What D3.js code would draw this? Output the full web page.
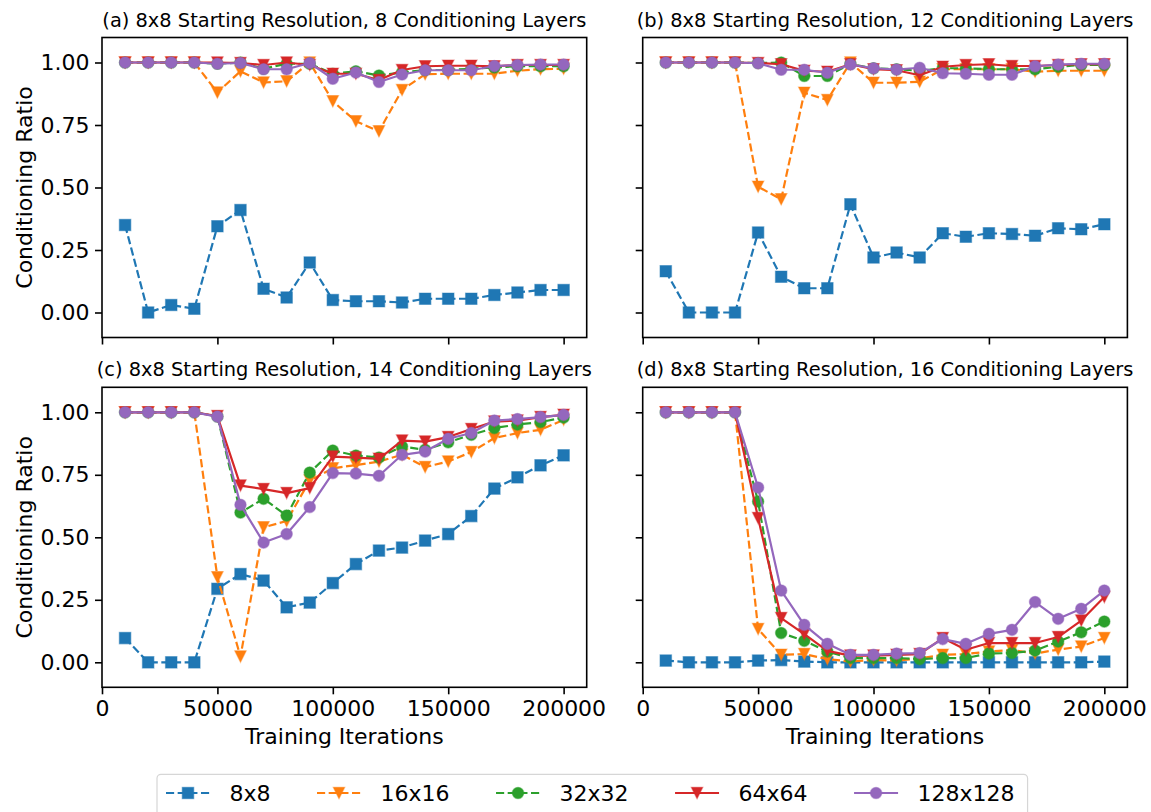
<!DOCTYPE html>
<html>
<head>
<meta charset="utf-8">
<script src="https://cdn.jsdelivr.net/npm/d3@7"></script>
<style>
  html, body { margin: 0; padding: 0; background: #ffffff; }
  svg { display: block; font-family: "DejaVu Sans", sans-serif; }
</style>
</head>
<body>
<svg id="chart" width="1151" height="812"></svg>
<script>
// Training checkpoints (x axis)
const iterations = [10000, 20000, 30000, 40000, 50000, 60000, 70000, 80000, 90000, 100000,
                    110000, 120000, 130000, 140000, 150000, 160000, 170000, 180000, 190000, 200000];

// Series (resolution) names
const seriesNames = ["8x8", "16x16", "32x32", "64x64", "128x128"];

// Panel titles
const panelTitles = [
  "(a) 8x8 Starting Resolution, 8 Conditioning Layers",
  "(b) 8x8 Starting Resolution, 12 Conditioning Layers",
  "(c) 8x8 Starting Resolution, 14 Conditioning Layers",
  "(d) 8x8 Starting Resolution, 16 Conditioning Layers"
];

// Tick values
const xTicks = [0, 50000, 100000, 150000, 200000];
const yTicks = [0, 0.25, 0.5, 0.75, 1.0];

// (a) 8 conditioning layers
const a8   = [0.35, 0.0, 0.03, 0.015, 0.345, 0.41, 0.095, 0.06, 0.2, 0.05, 0.045, 0.045, 0.04, 0.055, 0.055, 0.055, 0.07, 0.08, 0.09, 0.09];
const a16  = [1.0, 1.0, 1.0, 1.0, 0.88, 0.965, 0.92, 0.925, 1.0, 0.845, 0.765, 0.725, 0.89, 0.953, 0.955, 0.955, 0.955, 0.967, 0.973, 0.975];
const a32  = [1.0, 1.0, 1.0, 1.0, 0.995, 1.0, 0.975, 0.995, 0.995, 0.955, 0.965, 0.948, 0.96, 0.97, 0.97, 0.975, 0.98, 0.985, 0.985, 0.985];
const a64  = [1.0, 1.0, 1.0, 1.0, 1.0, 0.998, 0.99, 1.0, 0.99, 0.955, 0.955, 0.93, 0.97, 0.985, 0.987, 0.987, 0.985, 0.99, 0.99, 0.99];
const a128 = [1.0, 1.0, 1.0, 1.0, 0.995, 0.998, 0.973, 0.973, 0.998, 0.935, 0.96, 0.922, 0.952, 0.969, 0.969, 0.969, 0.986, 0.99, 0.992, 0.992];

// (b) 12 conditioning layers
const b8   = [0.165, 0.0, 0.0, 0.0, 0.32, 0.143, 0.097, 0.097, 0.433, 0.22, 0.24, 0.22, 0.317, 0.303, 0.317, 0.314, 0.307, 0.337, 0.333, 0.353];
const b16  = [1.0, 1.0, 1.0, 1.0, 0.503, 0.453, 0.879, 0.85, 1.0, 0.919, 0.919, 0.923, 0.973, 0.973, 0.973, 0.973, 0.963, 0.967, 0.967, 0.967];
const b32  = [1.0, 1.0, 1.0, 1.0, 0.998, 1.0, 0.946, 0.946, 0.994, 0.977, 0.973, 0.967, 0.977, 0.977, 0.973, 0.973, 0.973, 0.983, 0.99, 0.99];
const b64  = [1.0, 1.0, 1.0, 1.0, 0.998, 0.993, 0.967, 0.963, 0.993, 0.973, 0.969, 0.949, 0.983, 0.99, 0.993, 0.986, 0.986, 0.99, 0.993, 0.993];
const b128 = [1.0, 1.0, 1.0, 1.0, 0.997, 0.971, 0.971, 0.959, 0.992, 0.977, 0.972, 0.979, 0.957, 0.955, 0.951, 0.951, 0.985, 0.992, 0.995, 0.995];

// (c) 14 conditioning layers
const c8   = [0.097, 0.0, 0.0, 0.0, 0.294, 0.353, 0.327, 0.22, 0.239, 0.317, 0.393, 0.447, 0.459, 0.487, 0.513, 0.585, 0.695, 0.74, 0.788, 0.828];
const c16  = [1.0, 1.0, 1.0, 1.0, 0.34, 0.023, 0.54, 0.565, 0.727, 0.776, 0.789, 0.803, 0.83, 0.781, 0.803, 0.841, 0.897, 0.917, 0.93, 0.97];
const c32  = [1.0, 1.0, 1.0, 1.0, 0.983, 0.599, 0.654, 0.587, 0.759, 0.847, 0.827, 0.819, 0.863, 0.85, 0.88, 0.91, 0.937, 0.951, 0.961, 0.979];
const c64  = [1.0, 1.0, 1.0, 1.0, 0.985, 0.707, 0.693, 0.677, 0.697, 0.823, 0.819, 0.814, 0.887, 0.883, 0.901, 0.933, 0.963, 0.967, 0.981, 0.99];
const c128 = [1.0, 1.0, 1.0, 1.0, 0.983, 0.63, 0.479, 0.513, 0.621, 0.757, 0.755, 0.746, 0.83, 0.843, 0.894, 0.917, 0.967, 0.973, 0.981, 0.99];

// (d) 16 conditioning layers
const d8   = [0.007, 0.0, 0.0, 0.0, 0.007, 0.009, 0.003, 0.0, 0.0, 0.0, 0.0, 0.0, 0.0, 0.0, 0.0, 0.0, 0.0, 0.0, 0.0, 0.003];
const d16  = [1.0, 1.0, 1.0, 1.0, 0.133, 0.03, 0.033, 0.013, 0.003, 0.009, 0.007, 0.015, 0.03, 0.033, 0.043, 0.049, 0.035, 0.051, 0.063, 0.097];
const d32  = [1.0, 1.0, 1.0, 1.0, 0.643, 0.117, 0.086, 0.043, 0.017, 0.017, 0.017, 0.013, 0.017, 0.017, 0.035, 0.037, 0.047, 0.083, 0.12, 0.163];
const d64  = [1.0, 1.0, 1.0, 1.0, 0.577, 0.177, 0.113, 0.046, 0.027, 0.027, 0.03, 0.033, 0.097, 0.05, 0.077, 0.077, 0.077, 0.101, 0.167, 0.261];
const d128 = [1.0, 1.0, 1.0, 1.0, 0.699, 0.287, 0.15, 0.074, 0.03, 0.03, 0.035, 0.037, 0.093, 0.074, 0.114, 0.13, 0.241, 0.174, 0.214, 0.287];

const panelSeries = [
  [a8, a16, a32, a64, a128],
  [b8, b16, b32, b64, b128],
  [c8, c16, c32, c64, c128],
  [d8, d16, d32, d64, d128]
];

// Styling per series
const colors  = ["#1f77b4", "#ff7f0e", "#2ca02c", "#d62728", "#9467bd"];
const markers = ["square", "triDown", "circle", "triDown", "circle"];
const dashed  = [true, true, true, false, false];

const svg = d3.select("#chart");
const W = 484.7, H = 300;
const panelPos = [
  { x: 102,   y: 37.5,  col: 0, row: 0 },
  { x: 642.7, y: 37.5,  col: 1, row: 0 },
  { x: 102,   y: 387.3, col: 0, row: 1 },
  { x: 642.7, y: 387.3, col: 1, row: 1 }
];

const LW = 2.2, MS = 11.5;
const dashArr = `${(3.7 * LW).toFixed(2)},${(1.6 * LW).toFixed(2)}`;
const FONT = 22;

function markerPath(kind, r) {
  if (kind === "square") return `M${-r},${-r}H${r}V${r}H${-r}Z`;
  if (kind === "triDown") return `M0,${r}L${-r},${-r}L${r},${-r}Z`;
  return d3.symbol(d3.symbolCircle, Math.PI * r * r)();
}

function drawMarker(g, kind, color, x, y) {
  g.append("path")
    .attr("d", markerPath(kind, MS / 2))
    .attr("transform", `translate(${x},${y})`)
    .attr("fill", color)
    .attr("stroke", color)
    .attr("stroke-opacity", 0.45)
    .attr("stroke-width", 1.2);
}

panelPos.forEach((p, pi) => {
  const g = svg.append("g").attr("transform", `translate(${p.x},${p.y})`);
  const x = d3.scaleLinear().domain([0, 210000]).range([0, W]);
  const y = d3.scaleLinear().domain([-0.1, 1.1]).range([H, 0]);

  // X axis
  const xa = g.append("g").attr("transform", `translate(0,${H})`)
    .call(d3.axisBottom(x).tickValues(xTicks).tickSize(7).tickPadding(6).tickSizeOuter(0)
      .tickFormat(p.row === 1 ? d3.format("d") : () => ""));
  // Y axis
  const ya = g.append("g")
    .call(d3.axisLeft(y).tickValues(yTicks).tickSize(7).tickPadding(5.5).tickSizeOuter(0)
      .tickFormat(p.col === 0 ? d3.format(".2f") : () => ""));
  [xa, ya].forEach(a => {
    a.select(".domain").remove();
    a.selectAll(".tick line").attr("stroke", "#000").attr("stroke-width", 1.6);
    a.selectAll(".tick text").attr("fill", "#000")
      .style("font-size", FONT + "px").style("font-family", "DejaVu Sans");
  });

  // Series lines + markers
  const line = d3.line().x((d, i) => x(iterations[i])).y(d => y(d));
  panelSeries[pi].forEach((vals, si) => {
    const sg = g.append("g");
    sg.append("path")
      .datum(vals)
      .attr("d", line)
      .attr("fill", "none")
      .attr("stroke", colors[si])
      .attr("stroke-width", LW)
      .attr("stroke-linejoin", "round")
      .attr("stroke-dasharray", dashed[si] ? dashArr : null);
    vals.forEach((v, i) => drawMarker(sg, markers[si], colors[si], x(iterations[i]), y(v)));
  });

  // Frame
  g.append("rect").attr("width", W).attr("height", H)
    .attr("fill", "none").attr("stroke", "#000").attr("stroke-width", 1.6);

  // Title
  g.append("text")
    .attr("x", W / 2).attr("y", -11)
    .attr("text-anchor", "middle")
    .style("font-size", "19.4px")
    .attr("fill", "#000")
    .text(panelTitles[pi]);

  if (p.row === 1) {
    g.append("text")
      .attr("x", W / 2).attr("y", H + 56.7)
      .attr("text-anchor", "middle")
      .style("font-size", FONT + "px")
      .attr("fill", "#000")
      .text("Training Iterations");
  }
  if (p.col === 0) {
    g.append("text")
      .attr("transform", `translate(${31.5 - p.x},${H / 2}) rotate(-90)`)
      .attr("text-anchor", "middle")
      .style("font-size", FONT + "px")
      .attr("fill", "#000")
      .text("Conditioning Ratio");
  }
});

// Legend
const leg = svg.append("g");
const legBox = leg.append("rect")
  .attr("x", 157).attr("y", 774.3).attr("rx", 4).attr("ry", 4)
  .attr("height", 48)
  .attr("fill", "#ffffff").attr("fill-opacity", 0.8)
  .attr("stroke", "#d6d6d6").attr("stroke-width", 1.2);
let lx = 166;
const ly = 793;
seriesNames.forEach((name, si) => {
  leg.append("line")
    .attr("x1", lx).attr("x2", lx + 44).attr("y1", ly).attr("y2", ly)
    .attr("stroke", colors[si]).attr("stroke-width", LW)
    .attr("stroke-dasharray", dashed[si] ? dashArr : null);
  drawMarker(leg, markers[si], colors[si], lx + 22, ly);
  const t = leg.append("text")
    .attr("x", lx + 44 + 19.5).attr("y", ly + 7.5)
    .style("font-size", FONT + "px")
    .attr("fill", "#000")
    .text(name);
  const tw = t.node().getComputedTextLength();
  const end = lx + 44 + 19.5 + tw;
  if (si === seriesNames.length - 1) legBox.attr("width", end + 13 - 157);
  lx = end + 46.5;
});
</script>
</body>
</html>
